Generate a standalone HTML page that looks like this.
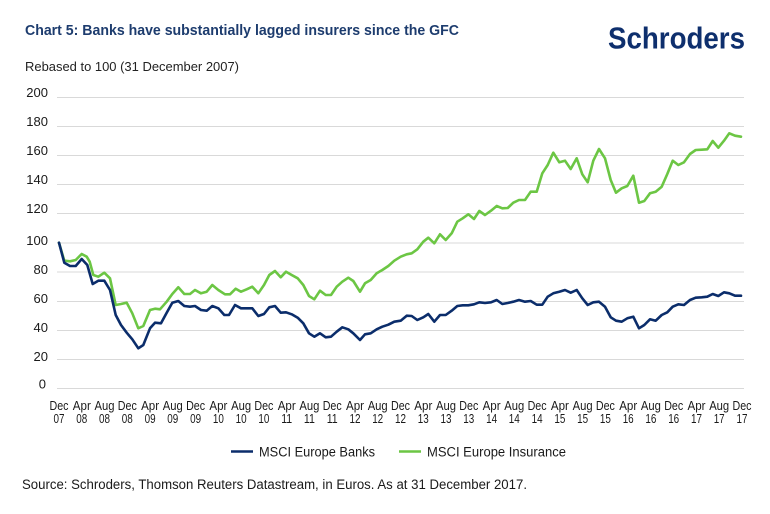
<!DOCTYPE html>
<html>
<head>
<meta charset="utf-8">
<style>
  html,body{margin:0;padding:0;background:#fff;}
  svg{display:block;}
  text{font-family:"Liberation Sans",sans-serif;}
</style>
</head>
<body>
<svg width="770" height="514" viewBox="0 0 770 514" xmlns="http://www.w3.org/2000/svg">
  <rect width="770" height="514" fill="#fff"/>
  <!-- Title -->
  <text x="25" y="35" font-size="14.5" font-weight="bold" fill="#1d3c6e" textLength="434" lengthAdjust="spacingAndGlyphs">Chart 5: Banks have substantially lagged insurers since the GFC</text>
  <!-- Logo -->
  <text x="608" y="48.3" font-size="30.5" font-weight="bold" fill="#0e2f6d" textLength="137" lengthAdjust="spacingAndGlyphs">Schroders</text>
  <!-- Subtitle -->
  <text x="25" y="71" font-size="13" fill="#222" textLength="214" lengthAdjust="spacingAndGlyphs">Rebased to 100 (31 December 2007)</text>

  <!-- Gridlines -->
  <g stroke="#d9d9d9" stroke-width="1">
    <line x1="57" x2="744" y1="97.5" y2="97.5"/>
    <line x1="57" x2="744" y1="126.5" y2="126.5"/>
    <line x1="57" x2="744" y1="155.5" y2="155.5"/>
    <line x1="57" x2="744" y1="184.5" y2="184.5"/>
    <line x1="57" x2="744" y1="213.5" y2="213.5"/>
    <line x1="57" x2="744" y1="243" y2="243"/>
    <line x1="57" x2="744" y1="272" y2="272"/>
    <line x1="57" x2="744" y1="301.5" y2="301.5"/>
    <line x1="57" x2="744" y1="330.5" y2="330.5"/>
    <line x1="57" x2="744" y1="359.5" y2="359.5"/>
    <line x1="57" x2="744" y1="388.5" y2="388.5"/>
  </g>

  <!-- Y labels -->
  <g font-size="13" fill="#1a1a1a" text-anchor="end">
    <text x="48" y="97">200</text>
    <text x="48" y="126">180</text>
    <text x="48" y="155">160</text>
    <text x="48" y="184">140</text>
    <text x="48" y="213">120</text>
    <text x="48" y="245">100</text>
    <text x="48" y="274">80</text>
    <text x="48" y="303">60</text>
    <text x="48" y="332">40</text>
    <text x="48" y="361">20</text>
    <text x="46" y="388.5">0</text>
  </g>

  <!-- X labels -->
  <g font-size="13" fill="#1a1a1a" text-anchor="middle">
    <text x="59" y="410" textLength="19" lengthAdjust="spacingAndGlyphs">Dec</text><text x="59" y="423" textLength="11" lengthAdjust="spacingAndGlyphs">07</text>
    <text x="81.8" y="410" textLength="18" lengthAdjust="spacingAndGlyphs">Apr</text><text x="81.8" y="423" textLength="11" lengthAdjust="spacingAndGlyphs">08</text>
    <text x="104.5" y="410" textLength="20" lengthAdjust="spacingAndGlyphs">Aug</text><text x="104.5" y="423" textLength="11" lengthAdjust="spacingAndGlyphs">08</text>
    <text x="127.3" y="410" textLength="19" lengthAdjust="spacingAndGlyphs">Dec</text><text x="127.3" y="423" textLength="11" lengthAdjust="spacingAndGlyphs">08</text>
    <text x="150.1" y="410" textLength="18" lengthAdjust="spacingAndGlyphs">Apr</text><text x="150.1" y="423" textLength="11" lengthAdjust="spacingAndGlyphs">09</text>
    <text x="172.8" y="410" textLength="20" lengthAdjust="spacingAndGlyphs">Aug</text><text x="172.8" y="423" textLength="11" lengthAdjust="spacingAndGlyphs">09</text>
    <text x="195.6" y="410" textLength="19" lengthAdjust="spacingAndGlyphs">Dec</text><text x="195.6" y="423" textLength="11" lengthAdjust="spacingAndGlyphs">09</text>
    <text x="218.4" y="410" textLength="18" lengthAdjust="spacingAndGlyphs">Apr</text><text x="218.4" y="423" textLength="11" lengthAdjust="spacingAndGlyphs">10</text>
    <text x="241.1" y="410" textLength="20" lengthAdjust="spacingAndGlyphs">Aug</text><text x="241.1" y="423" textLength="11" lengthAdjust="spacingAndGlyphs">10</text>
    <text x="263.9" y="410" textLength="19" lengthAdjust="spacingAndGlyphs">Dec</text><text x="263.9" y="423" textLength="11" lengthAdjust="spacingAndGlyphs">10</text>
    <text x="286.7" y="410" textLength="18" lengthAdjust="spacingAndGlyphs">Apr</text><text x="286.7" y="423" textLength="11" lengthAdjust="spacingAndGlyphs">11</text>
    <text x="309.4" y="410" textLength="20" lengthAdjust="spacingAndGlyphs">Aug</text><text x="309.4" y="423" textLength="11" lengthAdjust="spacingAndGlyphs">11</text>
    <text x="332.2" y="410" textLength="19" lengthAdjust="spacingAndGlyphs">Dec</text><text x="332.2" y="423" textLength="11" lengthAdjust="spacingAndGlyphs">11</text>
    <text x="355" y="410" textLength="18" lengthAdjust="spacingAndGlyphs">Apr</text><text x="355" y="423" textLength="11" lengthAdjust="spacingAndGlyphs">12</text>
    <text x="377.7" y="410" textLength="20" lengthAdjust="spacingAndGlyphs">Aug</text><text x="377.7" y="423" textLength="11" lengthAdjust="spacingAndGlyphs">12</text>
    <text x="400.5" y="410" textLength="19" lengthAdjust="spacingAndGlyphs">Dec</text><text x="400.5" y="423" textLength="11" lengthAdjust="spacingAndGlyphs">12</text>
    <text x="423.3" y="410" textLength="18" lengthAdjust="spacingAndGlyphs">Apr</text><text x="423.3" y="423" textLength="11" lengthAdjust="spacingAndGlyphs">13</text>
    <text x="446" y="410" textLength="20" lengthAdjust="spacingAndGlyphs">Aug</text><text x="446" y="423" textLength="11" lengthAdjust="spacingAndGlyphs">13</text>
    <text x="468.8" y="410" textLength="19" lengthAdjust="spacingAndGlyphs">Dec</text><text x="468.8" y="423" textLength="11" lengthAdjust="spacingAndGlyphs">13</text>
    <text x="491.6" y="410" textLength="18" lengthAdjust="spacingAndGlyphs">Apr</text><text x="491.6" y="423" textLength="11" lengthAdjust="spacingAndGlyphs">14</text>
    <text x="514.3" y="410" textLength="20" lengthAdjust="spacingAndGlyphs">Aug</text><text x="514.3" y="423" textLength="11" lengthAdjust="spacingAndGlyphs">14</text>
    <text x="537.1" y="410" textLength="19" lengthAdjust="spacingAndGlyphs">Dec</text><text x="537.1" y="423" textLength="11" lengthAdjust="spacingAndGlyphs">14</text>
    <text x="559.9" y="410" textLength="18" lengthAdjust="spacingAndGlyphs">Apr</text><text x="559.9" y="423" textLength="11" lengthAdjust="spacingAndGlyphs">15</text>
    <text x="582.6" y="410" textLength="20" lengthAdjust="spacingAndGlyphs">Aug</text><text x="582.6" y="423" textLength="11" lengthAdjust="spacingAndGlyphs">15</text>
    <text x="605.4" y="410" textLength="19" lengthAdjust="spacingAndGlyphs">Dec</text><text x="605.4" y="423" textLength="11" lengthAdjust="spacingAndGlyphs">15</text>
    <text x="628.2" y="410" textLength="18" lengthAdjust="spacingAndGlyphs">Apr</text><text x="628.2" y="423" textLength="11" lengthAdjust="spacingAndGlyphs">16</text>
    <text x="650.9" y="410" textLength="20" lengthAdjust="spacingAndGlyphs">Aug</text><text x="650.9" y="423" textLength="11" lengthAdjust="spacingAndGlyphs">16</text>
    <text x="673.7" y="410" textLength="19" lengthAdjust="spacingAndGlyphs">Dec</text><text x="673.7" y="423" textLength="11" lengthAdjust="spacingAndGlyphs">16</text>
    <text x="696.5" y="410" textLength="18" lengthAdjust="spacingAndGlyphs">Apr</text><text x="696.5" y="423" textLength="11" lengthAdjust="spacingAndGlyphs">17</text>
    <text x="719.2" y="410" textLength="20" lengthAdjust="spacingAndGlyphs">Aug</text><text x="719.2" y="423" textLength="11" lengthAdjust="spacingAndGlyphs">17</text>
    <text x="742" y="410" textLength="19" lengthAdjust="spacingAndGlyphs">Dec</text><text x="742" y="423" textLength="11" lengthAdjust="spacingAndGlyphs">17</text>
  </g>

  <!-- Insurance (green) -->
  <polyline fill="none" stroke="#6cc644" stroke-width="2.6" stroke-linejoin="round" stroke-linecap="round"
    points="59,242.7 64.3,260.7 70,261.3 75.7,260 81.7,254 86.7,256.7 89.7,261.7 93.3,275 98.3,276.7 104.3,272.7 110,278.3 115.7,305 121,304 126.7,302.7 132.3,313.3 138.3,328.3 143.3,326 150,310 155,308.7 160,309.3 166.7,301.7 172.3,294 178.3,287.3 184.3,294 190,294 195,290 201,293.3 206.7,291.7 212.3,285 218.3,290 225,294.3 230,294.3 235.7,288.7 241,291.7 246.7,289.3 252.3,286.7 258.3,293.3 264,285 269.3,275 275,271 280.7,277.3 286,271.7 291.7,275 297.7,278.3 303.3,285 309,296 314.3,299.3 320,290.7 325.7,295 331,295 336.7,286.7 342.3,281.7 348.3,277.7 353.3,281 360,291.7 365,283.3 370.7,280 376.7,273.3 382.3,270 388.3,266 394.3,260.7 400.7,256.7 406.7,254.3 411.7,253.3 417.3,249.3 423.3,241.7 428.3,237.7 434.3,243.3 440,234.3 445.7,240 451.7,233.3 457.3,221.7 462.7,218.3 468.3,214.3 474,219 479.3,211 485,215 491,210.7 496.7,206 502.3,208.3 507.7,208 513.3,202.7 519,200 525,200 530.7,191.7 536.7,191.7 542.3,173.3 547.7,165 553.3,152.7 559.3,162.3 565,160.7 570.7,169 576.7,158.3 582.3,174.3 587.7,182.3 593.3,160.7 599,149 605,158.3 610.7,180 616,192.7 621.7,188.3 627.3,186 633.3,175.7 639,202.7 644.3,201 650,193.3 655.7,191.7 661.7,186.7 667.3,174 672.7,160.7 678.3,165 684,162.3 690,154 695.7,150 701.7,149.7 707.3,149.3 712.7,141 718.3,147.7 724,140.7 729.3,133.3 735,135.7 741,136.7"/>

  <!-- Banks (blue) -->
  <polyline fill="none" stroke="#0b2d6b" stroke-width="2.6" stroke-linejoin="round" stroke-linecap="round"
    points="59,242.7 64.3,262.7 70,266 75.7,266 81.7,259 87.3,265 92.7,284 98.3,280.7 104.3,280.7 110,290 115.7,315 121,325 126.7,332.7 132.3,339.3 138.3,348.3 143.3,345 150,328.3 155,322.7 161,323.3 166.7,312.7 172.3,302.7 178.3,301 184.3,306 190,306.7 195,306 201,310 206.7,310.7 212.3,306 218.3,308.3 224.3,315 229,315 235,305 241,308.3 246.7,308.3 252.3,308.3 258.3,316 264,314 269.3,307.3 275,306 280.7,312.7 286,312.3 291.7,314.3 297.7,317.7 303.3,323.3 309,333.3 314.3,336.7 320,333.3 325.7,337.3 331,336.7 336.7,331.7 342.3,327.3 348.3,329.3 353.3,333.3 360,340 365,334.3 370.7,333.3 376.7,329.3 382.3,326.7 388.3,324.7 394.3,321.7 400.7,320.7 406.7,315.7 411.7,316 417.3,320 423.3,317.3 428.3,314 434.3,321.7 440,315 445.7,315 451.7,310.7 457.3,306 462.7,305.3 468.3,305.3 474,304.3 479.3,302.3 485,303 491,302.3 496.7,300 502.3,304 507.7,303 513.3,301.7 519,300 525,301.7 530.7,301 536.7,304.7 542.3,304.7 547.7,296.7 553.3,293.3 559.3,291.7 565,290 570.7,292.7 576.7,290 582.3,298.3 587.7,305 593.3,302.3 599,301.7 605,306.7 610.7,317.3 616,320.7 621.7,321.7 627.3,318.3 633.3,316.7 639,328.3 644.3,325 650,319.3 655.7,320.7 661.7,315 667.3,312.3 672.7,306.7 678.3,304.3 684,305 690,300 695.7,297.7 701.7,297.3 707.3,296.7 712.7,294 718.3,296 724,292.3 729.3,293.3 735,295.7 741,295.7"/>

  <!-- Legend -->
  <line x1="231" x2="253" y1="451.5" y2="451.5" stroke="#0b2d6b" stroke-width="2.6"/>
  <text x="259" y="456.5" font-size="13.5" fill="#1a1a1a" textLength="116" lengthAdjust="spacingAndGlyphs">MSCI Europe Banks</text>
  <line x1="399" x2="421" y1="451.5" y2="451.5" stroke="#6cc644" stroke-width="2.6"/>
  <text x="427" y="456.5" font-size="13.5" fill="#1a1a1a" textLength="139" lengthAdjust="spacingAndGlyphs">MSCI Europe Insurance</text>

  <!-- Source -->
  <text x="22" y="489" font-size="13.5" fill="#1a1a1a" textLength="505" lengthAdjust="spacingAndGlyphs">Source: Schroders, Thomson Reuters Datastream, in Euros. As at 31 December 2017.</text>
</svg>
</body>
</html>
